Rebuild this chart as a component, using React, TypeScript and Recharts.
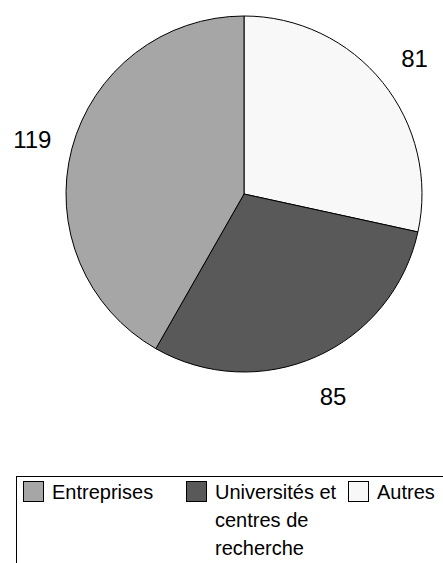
import { Cell, Pie, PieChart } from "recharts";

const categories = ["Autres", "Universités et centres de recherche", "Entreprises"];
const values = [81, 85, 119];
const colors = ["#f8f8f8", "#595959", "#a6a6a6"];

const legendOrder = [2, 1, 0];

const data = categories.map((name, i) => ({ name, value: values[i] }));

const FONT = "'Liberation Sans', Arial, sans-serif";
const RAD = Math.PI / 180;

function renderLabel(props: any) {
  const { cx, cy, midAngle, outerRadius, value } = props;
  const r = outerRadius + 41;
  const x = cx + r * Math.cos(-midAngle * RAD);
  const y = cy + r * Math.sin(-midAngle * RAD);
  return (
    <text
      x={x}
      y={y + 2}
      fill="#000"
      fontSize={24}
      fontFamily={FONT}
      textAnchor="middle"
      dominantBaseline="central"
    >
      {value}
    </text>
  );
}

export default function App() {
  return (
    <div
      style={{
        position: "absolute",
        left: 0,
        top: 0,
        width: 443,
        height: 563,
        overflow: "hidden",
        background: "#fff",
        fontFamily: FONT,
      }}
    >
      <PieChart width={443} height={563} margin={{ top: 0, right: 0, bottom: 0, left: 0 }}>
        <Pie
          data={data}
          dataKey="value"
          cx={244}
          cy={194}
          outerRadius={178}
          startAngle={90}
          endAngle={-270}
          stroke="#000"
          strokeWidth={1}
          label={renderLabel}
          labelLine={false}
          isAnimationActive={false}
        >
          {data.map((d, i) => (
            <Cell key={d.name} fill={colors[i]} />
          ))}
        </Pie>
      </PieChart>
      <div
        style={{
          position: "absolute",
          left: 16,
          top: 476,
          width: 460,
          height: 120,
          border: "1px solid #000",
          boxSizing: "border-box",
          paddingTop: 1,
          paddingLeft: 6,
          display: "flex",
          fontSize: 20,
          lineHeight: "28px",
          color: "#000",
        }}
      >
        {legendOrder.map((idx, k) => (
          <div
            key={categories[idx]}
            style={{
              display: "flex",
              alignItems: "flex-start",
              width: k === 2 ? 120 : k === 1 ? 162 : 163,
            }}
          >
            <div
              style={{
                width: 21,
                height: 21,
                marginTop: 3,
                boxSizing: "border-box",
                border: "1px solid #000",
                background: colors[idx],
                flexShrink: 0,
              }}
            />
            <div style={{ marginLeft: 8, width: k === 1 ? 130 : 110 }}>{categories[idx]}</div>
          </div>
        ))}
      </div>
    </div>
  );
}
